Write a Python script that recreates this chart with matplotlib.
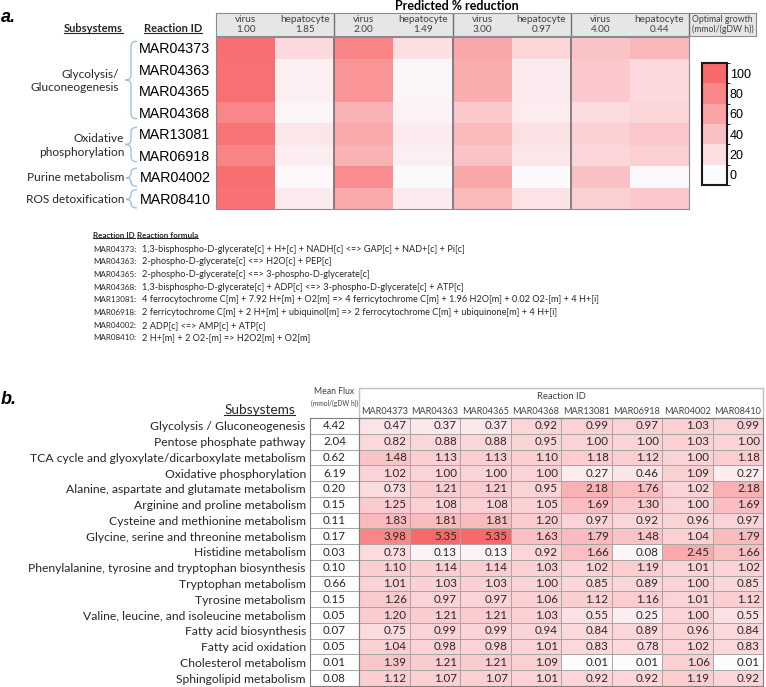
import numpy as np
import matplotlib
matplotlib.use("Agg")
import matplotlib.pyplot as plt
from matplotlib import font_manager, transforms
from matplotlib.colors import LinearSegmentedColormap, ListedColormap, BoundaryNorm, PowerNorm
from matplotlib.cm import ScalarMappable
from matplotlib.path import Path
from matplotlib.patches import PathPatch, Rectangle

# ---------------- panel a data ----------------
a_cells = ["virus", "hepatocyte"] * 4
a_growth = ["1.00", "1.85", "2.00", "1.49", "3.00", "0.97", "4.00", "0.44"]
a_reactions = ["MAR04373", "MAR04363", "MAR04365", "MAR04368",
               "MAR13081", "MAR06918", "MAR04002", "MAR08410"]
# predicted % reduction per condition column (rows follow a_reactions)
a_virus_1 = [96, 95, 95, 80, 93, 82, 96, 94]
a_hep_185 = [24, 8, 8, 5, 15, 10, 3, 12]
a_virus_2 = [82, 70, 70, 50, 56, 50, 76, 56]
a_hep_149 = [20, 5, 5, 7, 12, 9, 2, 12]
a_virus_3 = [58, 54, 54, 35, 45, 38, 58, 45]
a_hep_097 = [25, 12, 12, 11, 18, 15, 2, 17]
a_virus_4 = [38, 35, 35, 23, 29, 25, 40, 30]
a_hep_044 = [47, 24, 24, 26, 36, 30, 3, 35]

a_groups = ["Glycolysis/\nGluconeogenesis", "Oxidative\nphosphorylation",
            "Purine metabolism", "ROS detoxification"]
a_group_rows = [(0, 3), (4, 5), (6, 6), (7, 7)]

a_formulas = [
    "1,3-bisphospho-D-glycerate[c] + H+[c] + NADH[c] <=> GAP[c] + NAD+[c] + Pi[c]",
    "2-phospho-D-glycerate[c] <=> H2O[c] + PEP[c]",
    "2-phospho-D-glycerate[c] <=> 3-phospho-D-glycerate[c]",
    "1,3-bisphospho-D-glycerate[c] + ADP[c] <=> 3-phospho-D-glycerate[c] + ATP[c]",
    "4 ferrocytochrome C[m] + 7.92 H+[m] + O2[m] => 4 ferricytochrome C[m] + 1.96 H2O[m] + 0.02 O2-[m] + 4 H+[i]",
    "2 ferricytochrome C[m] + 2 H+[m] + ubiquinol[m] => 2 ferrocytochrome C[m] + ubiquinone[m] + 4 H+[i]",
    "2 ADP[c] <=> AMP[c] + ATP[c]",
    "2 H+[m] + 2 O2-[m] => H2O2[m] + O2[m]",
]

# ---------------- panel b data ----------------
b_subsystems = [
    "Glycolysis / Gluconeogenesis", "Pentose phosphate pathway",
    "TCA cycle and glyoxylate/dicarboxylate metabolism", "Oxidative phosphorylation",
    "Alanine, aspartate and glutamate metabolism", "Arginine and proline metabolism",
    "Cysteine and methionine metabolism", "Glycine, serine and threonine metabolism",
    "Histidine metabolism", "Phenylalanine, tyrosine and tryptophan biosynthesis",
    "Tryptophan metabolism", "Tyrosine metabolism",
    "Valine, leucine, and isoleucine metabolism", "Fatty acid biosynthesis",
    "Fatty acid oxidation", "Cholesterol metabolism", "Sphingolipid metabolism",
]
b_mean_flux = [4.42, 2.04, 0.62, 6.19, 0.20, 0.15, 0.11, 0.17, 0.03,
               0.10, 0.66, 0.15, 0.05, 0.07, 0.05, 0.01, 0.08]
b_reaction_ids = a_reactions
b_ratio = [
    [0.47, 0.37, 0.37, 0.92, 0.99, 0.97, 1.03, 0.99],
    [0.82, 0.88, 0.88, 0.95, 1.00, 1.00, 1.03, 1.00],
    [1.48, 1.13, 1.13, 1.10, 1.18, 1.12, 1.00, 1.18],
    [1.02, 1.00, 1.00, 1.00, 0.27, 0.46, 1.09, 0.27],
    [0.73, 1.21, 1.21, 0.95, 2.18, 1.76, 1.02, 2.18],
    [1.25, 1.08, 1.08, 1.05, 1.69, 1.30, 1.00, 1.69],
    [1.83, 1.81, 1.81, 1.20, 0.97, 0.92, 0.96, 0.97],
    [3.98, 5.35, 5.35, 1.63, 1.79, 1.48, 1.04, 1.79],
    [0.73, 0.13, 0.13, 0.92, 1.66, 0.08, 2.45, 1.66],
    [1.10, 1.14, 1.14, 1.03, 1.02, 1.19, 1.01, 1.02],
    [1.01, 1.03, 1.03, 1.00, 0.85, 0.89, 1.00, 0.85],
    [1.26, 0.97, 0.97, 1.06, 1.12, 1.16, 1.01, 1.12],
    [1.20, 1.21, 1.21, 1.03, 0.55, 0.25, 1.00, 0.55],
    [0.75, 0.99, 0.99, 0.94, 0.84, 0.89, 0.96, 0.84],
    [1.04, 0.98, 0.98, 1.01, 0.83, 0.78, 1.02, 0.83],
    [1.39, 1.21, 1.21, 1.09, 0.01, 0.01, 1.06, 0.01],
    [1.12, 1.07, 1.07, 1.01, 0.92, 0.92, 1.19, 0.92],
]

# ---------------- style ----------------
plt.rcParams['font.family'] = ['Lato', 'DejaVu Sans']
names = {f.name for f in font_manager.fontManager.ttflist}
narrow = 'Liberation Sans Narrow' if 'Liberation Sans Narrow' in names else 'Lato'
arial = 'Liberation Sans'
txt = '#262626'
grid = '#A6A6A6'
cmap = LinearSegmentedColormap.from_list('wr', ['#FCFCFF', '#F8696B'])

W, H = 766, 687


def fbox(x0, y0, x1, y1):
    return [x0 / W, 1 - y1 / H, (x1 - x0) / W, (y1 - y0) / H]


fig = plt.figure(figsize=(W / 100, H / 100), dpi=100)
ax0 = fig.add_axes([0, 0, 1, 1])
ax0.set_xlim(0, W)
ax0.set_ylim(H, 0)
ax0.axis('off')

to_underline = []

# ================= panel a =================
ax0.text(1, 17, "a.", fontsize=13, fontweight='bold', style='italic', family=arial, va='center')
ax0.text(457, 6, "Predicted % reduction", fontsize=9, fontweight='bold', ha='center', va='center')
to_underline.append(ax0.text(93, 29, "Subsystems", fontsize=8.0, fontweight='bold', ha='center', va='center', color=txt))
to_underline.append(ax0.text(173, 29, "Reaction ID", fontsize=8.0, fontweight='bold', ha='center', va='center', color=txt))

a_reduction = np.column_stack([a_virus_1, a_hep_185, a_virus_2, a_hep_149,
                               a_virus_3, a_hep_097, a_virus_4, a_hep_044])
axa = fig.add_axes(fbox(216, 37, 689, 209))
axa.pcolormesh(a_reduction, cmap=cmap, vmin=0, vmax=100)
axa.set_xlim(0, 8)
axa.set_ylim(8, 0)
axa.set_xticks([])
axa.set_yticks(np.arange(len(a_reactions)) + 0.5, a_reactions, fontsize=10.3, family=arial)
axa.tick_params(length=0, pad=4)
for s in axa.spines.values():
    s.set_color('#8C8C8C')
for k in (2, 4, 6):
    axa.axvline(k, color='#6F6F6F', lw=1.2)

# header row
col_w = (689 - 216) / 8
axh = fig.add_axes(fbox(216, 13, 756, 36))
xmax = (756 - 216) / col_w
axh.set_xlim(0, xmax)
axh.set_ylim(0, 1)
axh.bar(np.arange(8) + 0.5, 1, width=1, color='#E7E6E6')
axh.bar((8 + xmax) / 2, 1, width=xmax - 8, color='#E7E6E6')
for i, (c, g) in enumerate(zip(a_cells, a_growth)):
    axh.text(i + 0.5, 0.5, f"{c}\n{g}", ha='center', va='center', fontsize=7.2, color='#404040', linespacing=1.0)
axh.text((8 + xmax) / 2, 0.5, "Optimal growth\n(mmol/(gDW h))", ha='center', va='center',
         fontsize=6.3, color='#404040', linespacing=1.1)
for k in (2, 4, 6, 8):
    axh.axvline(k, color='#6F6F6F', lw=1.0)
axh.set_xticks([])
axh.set_yticks([])
for s in axh.spines.values():
    s.set_color('#8C8C8C')

# brace labels, x in figure pixels, y in heatmap rows
bt = transforms.blended_transform_factory(ax0.transData, axa.transData)


def brace(y0, y1, tip, xr, xm, xl):
    r = min(0.22, (y1 - y0) / 4)
    verts = [(xr, y0), (xm, y0), (xm, y0 + r), (xm, tip - r), (xm, tip), (xl, tip),
             (xm, tip), (xm, tip + r), (xm, y1 - r), (xm, y1), (xr, y1)]
    codes = [Path.MOVETO, Path.CURVE3, Path.CURVE3, Path.LINETO, Path.CURVE3, Path.CURVE3,
             Path.CURVE3, Path.CURVE3, Path.LINETO, Path.CURVE3, Path.CURVE3]
    ax0.add_patch(PathPatch(Path(verts, codes), transform=bt, fill=False,
                            edgecolor='#9DC3E6', lw=1.0, clip_on=False))


for name, (r0, r1) in zip(a_groups, a_group_rows):
    mid = (r0 + r1 + 1) / 2
    if r1 > r0:
        brace(r0 + 0.2, r1 + 0.8, mid, 137, 131, 125)
        xt = 119 if r1 - r0 > 2 else 124
    else:
        brace(r0 + 0.1, r1 + 0.95, mid + 0.05, 137, 131, 126)
        xt = 124
    ax0.text(xt, mid + 0.05, name, transform=bt, ha='right', va='center', fontsize=8.6,
             color=txt, linespacing=1.3)

# colorbar
axc = fig.add_axes(fbox(702, 63, 727, 185))
bands = ListedColormap(cmap(np.linspace(0, 1, 6)))
cb = fig.colorbar(ScalarMappable(BoundaryNorm(np.arange(-10, 111, 20), 6), bands),
                  cax=axc, ticks=np.arange(0, 101, 20))
cb.outline.set_linewidth(1.5)
cb.outline.set_edgecolor('#1A1A1A')
axc.tick_params(length=0, labelsize=9, pad=2)
for t in axc.get_yticklabels():
    t.set_family(arial)

# reaction formulas
to_underline.append(ax0.text(93, 236, "Reaction ID", fontsize=5.8, fontweight='bold', va='center', color=txt))
to_underline.append(ax0.text(137, 236, "Reaction formula", fontsize=5.8, fontweight='bold', va='center', color=txt))
for i, (rid, f) in enumerate(zip(a_reactions, a_formulas)):
    y = 249 + i * 12.7
    ax0.text(93, y, rid + ":", fontsize=5.8, family=narrow, va='center', color=txt)
    ax0.text(142, y, f, fontsize=6.6, family=narrow, va='center', color=txt)

# ================= panel b =================
ax0.text(1, 400, "b.", fontsize=13, fontweight='bold', style='italic', family=arial, va='center')
to_underline.append(ax0.text(295, 410, "Subsystems", fontsize=9.8, ha='right', va='center', color=txt))

nb = len(b_subsystems)
axf = fig.add_axes(fbox(310, 418, 359, 686))
axf.pcolormesh(np.zeros((nb, 1)), cmap=ListedColormap(['white']), edgecolors=grid, lw=0.6)
axf.set_xlim(0, 1)
axf.set_ylim(nb, 0)
axf.set_xticks([])
axf.set_yticks(np.arange(nb) + 0.5, b_subsystems, fontsize=8.7, color=txt)
axf.tick_params(length=0, pad=3)
for i, v in enumerate(b_mean_flux):
    axf.text(0.5, i + 0.5, f"{v:.2f}", ha='center', va='center', fontsize=8.3, color=txt)
for s in axf.spines.values():
    s.set_color('#7F7F7F')
    s.set_linewidth(0.8)
axf.text(0.5, -1.7, "Mean Flux", ha='center', va='center', fontsize=6.2, color='#404040')
axf.text(0.5, -0.95, "(mmol/(gDW h))", ha='center', va='center', fontsize=4.8, color='#404040')

ratio = np.array(b_ratio)
axb = fig.add_axes(fbox(359, 418, 763, 686))
axb.pcolormesh(ratio, cmap=cmap, norm=PowerNorm(0.75, vmin=0, vmax=ratio.max()),
               edgecolors=grid, lw=0.6)
axb.set_xlim(0, 8)
axb.set_ylim(nb, 0)
axb.set_yticks([])
axb.xaxis.tick_top()
axb.set_xticks(np.arange(8) + 0.5, b_reaction_ids, fontsize=6.6, color='#404040')
axb.tick_params(length=0, pad=1.5)
for i in range(nb):
    for j in range(8):
        axb.text(j + 0.94, i + 0.5, f"{ratio[i, j]:.2f}", ha='right', va='center',
                 fontsize=8.3, color=txt)
for s in axb.spines.values():
    s.set_color('#7F7F7F')
    s.set_linewidth(0.8)
axb.add_patch(Rectangle((0, -1.9), 8, 1.9, fill=False, edgecolor='#BFBFBF', lw=1.0, clip_on=False))
axb.text(4, -1.35, "Reaction ID", ha='center', va='center', fontsize=6.8, color='#404040')

# underlines
fig.canvas.draw()
inv = ax0.transData.inverted()
for t in to_underline:
    bb = t.get_window_extent()
    (x0, y0), (x1, _) = inv.transform([(bb.x0, bb.y0 + 1.5), (bb.x1, bb.y0)])
    ax0.plot([x0, x1], [y0, y0], color=t.get_color(), lw=0.8)

fig.savefig("out.png", dpi=100)
